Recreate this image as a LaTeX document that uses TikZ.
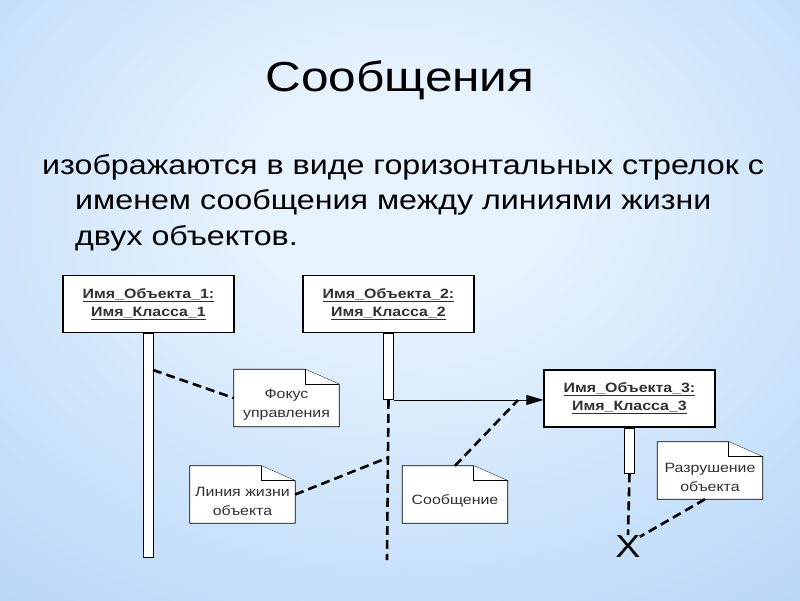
\documentclass[tikz,border=0pt]{standalone}
\usepackage{fontspec}
\setmainfont{Liberation Sans}[FakeStretch=1.18]
\usetikzlibrary{arrows.meta,calc}
\definecolor{bgin}{HTML}{E6F2FE}
\definecolor{bgout}{HTML}{96C4F2}
\definecolor{txt}{HTML}{303030}
\pgfdeclareradialshading{bgshade}{\pgfpoint{0bp}{10bp}}{color(0bp)=(bgin); color(10bp)=(bgin); color(62bp)=(bgout); color(90bp)=(bgout)}
\pgfdeclarelayer{back}
\pgfdeclarelayer{mid}
\pgfsetlayers{back,mid,main}
\begin{document}
\begin{tikzpicture}[x=1pt,y=-1pt,
  objbox/.style={draw=black, line width=1.3pt, fill=white, minimum width=171, minimum height=57, inner sep=0, align=center, font=\bfseries\fontsize{13.5}{18}\selectfont, text=txt},
  life/.style={draw=black, line width=0.8pt, fill=white, minimum width=10, inner sep=0},
  note/.style={minimum width=105, minimum height=57, inner sep=0, align=center, font=\fontsize{13.5}{19}\selectfont, text=txt},
  noteline/.style={draw=black, fill=white, line width=0.8pt, line join=miter},
  dashline/.style={black, line width=2.6pt, dash pattern=on 9pt off 5pt},
  msg/.style={black, line width=0.9pt, -{Triangle[length=17pt,width=10pt]}},
  body/.style={anchor=base west, inner sep=0, font=\fontsize{27.3}{32}\selectfont}
]
\begin{pgfonlayer}{back}
\shade[shading=bgshade] (0,0) rectangle (800,600);
\end{pgfonlayer}
\useasboundingbox (0,0) rectangle (800,600);

\node[font=\fontsize{42}{50}\selectfont, inner sep=0] (title) at (400,80) {Сообщения};
\node[body] (b1) at (42,174) {изображаются в виде горизонтальных стрелок с};
\node[body] (b2) at (75,209.5) {именем сообщения между линиями жизни};
\node[body] (b3) at (75,245) {двух объектов.};

\node[objbox] (o1) at (148.5,304) {\underline{Имя\_Объекта\_1:}\\\underline{Имя\_Класса\_1}};
\node[objbox] (o2) at (388.5,304) {\underline{Имя\_Объекта\_2:}\\\underline{Имя\_Класса\_2}};
\node[objbox] (o3) at (629.5,398.5) {\underline{Имя\_Объекта\_3:}\\\underline{Имя\_Класса\_3}};

\node[life, minimum height=224, anchor=north] (l1) at (o1.south) {};
\node[life, minimum height=66, anchor=north] (a2) at (o2.south) {};
\node[life, minimum height=45, anchor=north] (a3) at (o3.south) {};

\node[note] (n1) at (286.5,398) {\rule{0pt}{23pt}Фокус\\управления};
\node[note] (n2) at (242.5,494.5) {\rule{0pt}{23pt}Линия жизни\\объекта};
\node[note] (n3) at (455,494.5) {\rule{0pt}{23pt}Сообщение};
\node[note] (n4) at (710,470.5) {\rule{0pt}{23pt}Разрушение\\объекта};

\begin{pgfonlayer}{mid}
\foreach \n in {n1,n2,n3,n4}{
  \filldraw[noteline] (\n.south west) -- (\n.north west) -- ([xshift=-34pt]\n.north east) -- ([yshift=-15pt]\n.north east) -- (\n.south east) -- cycle;
  \draw[noteline] ([xshift=-34pt]\n.north east) |- ([yshift=-15pt]\n.north east);
}
\end{pgfonlayer}

\node[font=\fontsize{32}{32}\selectfont, inner sep=0] (xx) at (628,546) {X};

\coordinate (d2end) at (387,560);
\coordinate (f1) at (153,370);
\coordinate (c2) at (387,458);
\coordinate (m1) at (518,400);

\draw[msg] (a2.south east) -- (a2.south east -| o3.west);
\draw[dashline] (a2.south) -- (d2end);
\draw[dashline] (a3.south) -- (xx.north);
\draw[dashline] (f1) -- (n1.west);
\draw[dashline] (n2.east) -- (c2);
\draw[dashline] (n3.north) -- (m1);
\draw[dashline] ([xshift=-5pt]n4.south) -- ([xshift=-1pt,yshift=-2pt]xx.north east);
\end{tikzpicture}
\end{document}
